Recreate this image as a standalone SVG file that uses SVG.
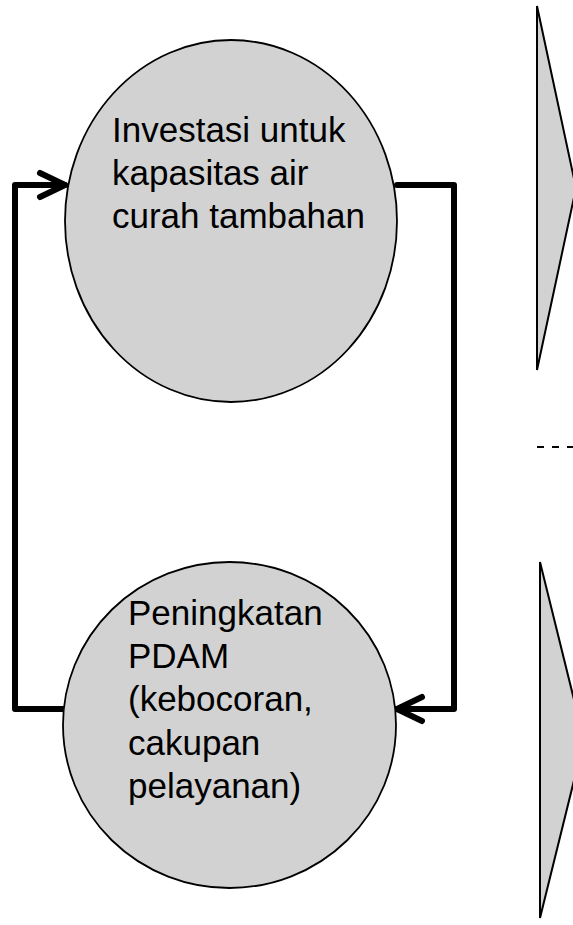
<svg xmlns="http://www.w3.org/2000/svg" width="573" height="925" viewBox="0 0 573 925">
  <style>
    .bubble { fill: #d2d2d2; stroke: #000; stroke-width: 1.8; }
    .wedge { fill: #d2d2d2; stroke: #000; stroke-width: 2; stroke-linejoin: miter; }
    .label { font-family: "Liberation Sans", Arial, sans-serif; font-size: 35px; fill: #000; }
    .flow { fill: none; stroke: #000; stroke-width: 6; stroke-linejoin: round; stroke-linecap: round; }
    .divider { fill: none; stroke: #000; stroke-width: 2; stroke-dasharray: 7 8; }
  </style>
  <rect width="573" height="925" fill="#fff"/>

  <!-- side wedges and divider -->
  <g id="wedge-top">
    <polygon class="wedge" points="537,6 576,188 537,370"/>
  </g>
  <g id="wedge-bottom">
    <polygon class="wedge" points="540,562 584,740 540,918"/>
  </g>
  <g id="divider">
    <line class="divider" x1="537" y1="447" x2="573" y2="447"/>
  </g>

  <!-- feedback loop -->
  <g id="connectors">
    <polyline class="flow" points="397,185 454,185 454,709 397,709"/>
    <polyline class="flow" points="422,697 397,709 422,721"/>
    <polyline class="flow" points="63,709 15,709 15,185 65,185"/>
    <polyline class="flow" points="40,173 65,185 40,197"/>
  </g>

  <g id="node-investasi">
    <ellipse class="bubble" cx="231" cy="221" rx="166" ry="181"/>
    <text class="label" x="112" y="142">Investasi untuk</text>
    <text class="label" x="112" y="185">kapasitas air</text>
    <text class="label" x="112" y="228">curah tambahan</text>
  </g>

  <g id="node-peningkatan">
    <ellipse class="bubble" cx="229.5" cy="725" rx="166.5" ry="163"/>
    <text class="label" x="128" y="625">Peningkatan</text>
    <text class="label" x="128" y="668">PDAM</text>
    <text class="label" x="128" y="711">(kebocoran,</text>
    <text class="label" x="128" y="755">cakupan</text>
    <text class="label" x="128" y="798">pelayanan)</text>
  </g>
</svg>
